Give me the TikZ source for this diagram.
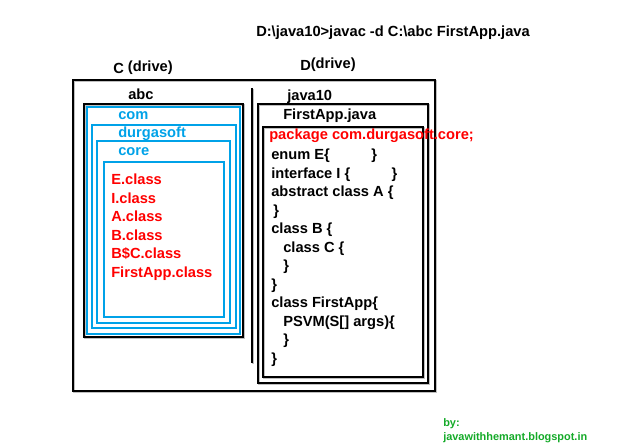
\documentclass[tikz,border=0pt]{standalone}
\usepackage{fontspec}
\setmainfont{Liberation Sans}
\definecolor{folderblue}{RGB}{0,162,232}
\definecolor{classred}{RGB}{255,0,0}
\definecolor{bloggreen}{RGB}{20,170,40}

\begin{document}
\begin{tikzpicture}[x=0.75pt, y=-0.75pt,
  txt/.style={anchor=base west, inner sep=0pt, font=\bfseries\fontsize{11}{13}\selectfont},
  frame/.style={draw=black, line width=1.5pt,
    preaction={draw=black!25, line width=1.5pt, transform canvas={xshift=0.9pt, yshift=-0.9pt}}},
  folder/.style={draw=folderblue, line width=1.5pt}]
  \useasboundingbox (0,0) rectangle (640,448);

  % command line
  \node[txt] (cmd) at (256,37) {D:\textbackslash java10>javac -d C:\textbackslash abc FirstApp.java};

  % drives
  \node[txt] (cdrive) at (113,72) {\raisebox{-1.5pt}{C} (drive)};
  \node[txt] (ddrive) at (300,69) {\raisebox{-1.5pt}{D}(drive)};
  \draw[frame] (73,80) rectangle (435,391);
  \draw[frame] (252,88) -- (252,363);

  % C side: abc > com > durgasoft > core
  \node[txt] (abc) at (128,100) {abc};
  \draw[frame] (84,104) rectangle (243,337);
  \draw[folder] (87,107) rectangle (240,334);
  \node[txt, folderblue] (com) at (118,120) {com};
  \draw[folder] (92,125) rectangle (236,328);
  \node[txt, folderblue] (durgasoft) at (118,138) {durgasoft};
  \draw[folder] (97,141) rectangle (230,323);
  \node[txt, folderblue] (core) at (118,156) {core};
  \draw[folder] (104,162) rectangle (224,317);

  \node[txt, classred] (eclass) at (111,185) {E.class};
  \node[txt, classred] (iclass) at (111,203.5) {I.class};
  \node[txt, classred] (aclass) at (111,222) {A.class};
  \node[txt, classred] (bclass) at (111,240.5) {B.class};
  \node[txt, classred] (bcclass) at (111,259) {B\$C.class};
  \node[txt, classred] (appclass) at (111,277.5) {FirstApp.class};

  % D side: java10 > FirstApp.java
  \node[txt] (java10) at (287,101) {java10};
  \draw[frame] (258,104) rectangle (428,383);
  \node[txt] (srcfile) at (283,120) {FirstApp.java};
  \draw[frame] (263,127) rectangle (423,377);

  \node[txt, classred] (pkg) at (269,140) {package com.durgasoft.core;};
  \node[txt] (enum) at (271,160) {enum E\{\hspace{31pt}\}};
  \node[txt] (iface) at (271,178.5) {interface I \{\hspace{31pt}\}};
  \node[txt] (absa) at (271,197) {abstract class A \{};
  \node[txt] (absend) at (273,215.5) {\}};
  \node[txt] (clsb) at (271,234) {class B \{};
  \node[txt] (clsc) at (283,252.5) {class C \{};
  \node[txt] (clscend) at (283,271) {\}};
  \node[txt] (clsbend) at (271,289.5) {\}};
  \node[txt] (clsapp) at (271,308) {class FirstApp\{};
  \node[txt] (psvm) at (283,326.5) {PSVM(S[] args)\{};
  \node[txt] (psvmend) at (283,345) {\}};
  \node[txt] (clsappend) at (271,363.5) {\}};

  % credit
  \node[txt, bloggreen, font=\bfseries\fontsize{8.2}{10}\selectfont] (by) at (443,427) {by:};
  \node[txt, bloggreen, font=\bfseries\fontsize{8.2}{10}\selectfont] (blog) at (443,441) {javawithhemant.blogspot.in};
\end{tikzpicture}
\end{document}
